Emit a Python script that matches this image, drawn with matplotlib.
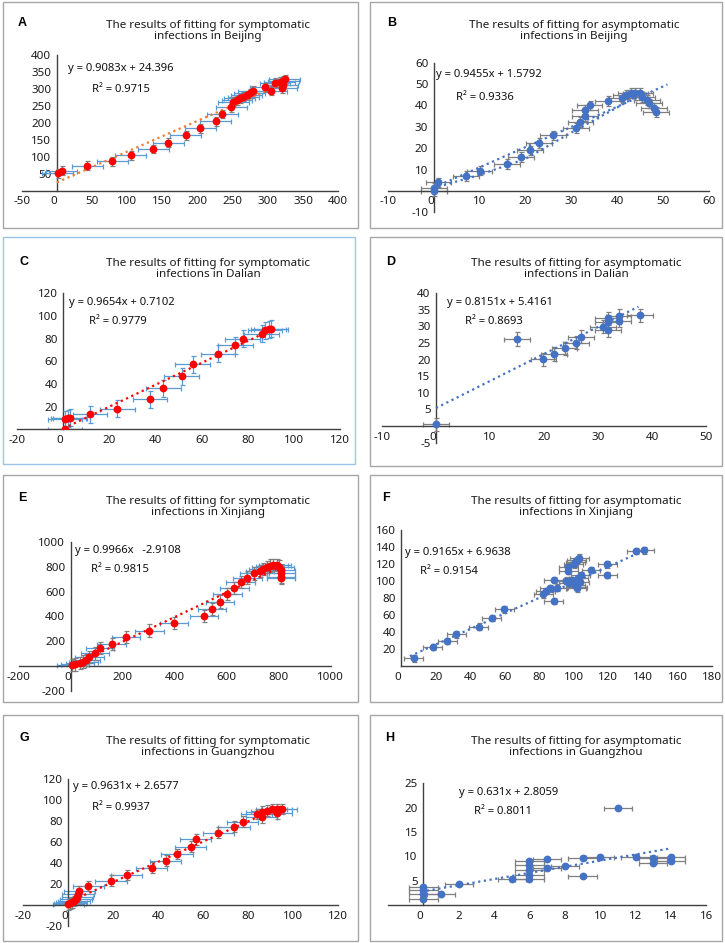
import matplotlib
matplotlib.use('Agg')
import numpy as np
import matplotlib.pyplot as plt
from matplotlib.patches import Rectangle

plt.rcParams['font.family'] = ['Noto Sans', 'DejaVu Sans']
plt.rcParams['axes.unicode_minus'] = False

W, H = 725, 943

# --- data ---
# A: symptomatic, Beijing
a_x = [1, 7, 43, 79, 105, 137, 158, 183, 204, 226, 235, 248, 251, 256, 260, 265, 270, 274,
       279, 296, 305, 310, 317, 322, 324, 321, 320]
a_y = [51, 59, 74, 87, 104, 123, 142, 163, 184, 205, 226, 246, 262, 267, 272, 277, 282, 287,
       295, 305, 295, 318, 321, 324, 328, 312, 302]
a_fit = (0.9083, 24.396, 0.9715)

# B: asymptomatic, Beijing
b_x = [0, 0, 1, 7, 10, 16, 19, 21, 23, 26, 31, 32, 33, 33, 34, 38, 41, 42, 43, 44, 45,
       45.5, 46.5, 47, 48, 48.5]
b_y = [0, 1.5, 4, 7, 9.5, 12.6, 15.8, 19, 22.5, 26, 29.4, 32.3, 35, 38, 40, 42, 43.7, 45,
       45.8, 46, 45.8, 44, 42.6, 41, 39, 37]
b_curve_x = [1, 10, 20, 31, 40, 44]
b_curve_y = [2, 7.5, 15, 28.5, 39, 44]
b_fit = (0.9455, 1.5792, 0.9336)

# C: symptomatic, Dalian
c_x = [0.7, 0.7, 2.2, 2.9, 11.6, 23.4, 37.6, 43.4, 51.3, 56.1, 67, 74.6, 77.8, 86, 87.5, 89, 90]
c_y = [0.3, 8.8, 9.7, 10.3, 13.2, 18.2, 26.5, 36.2, 47, 57.4, 66.5, 74.1, 79.7, 84.4, 87.6, 88.2, 88.8]
c_fit = (0.9654, 0.7102, 0.9779)

# D: asymptomatic, Dalian
d_x = [0, 15, 19.9, 21.9, 23.8, 25.9, 26.9, 30.9, 31.9, 31.9, 31.9, 33.8, 33.8, 37.7]
d_y = [0.5, 26.2, 20.1, 21.7, 23.4, 25.1, 26.9, 29.9, 32.5, 31.5, 28.9, 31.8, 33.2, 33.4]
d_fit = (0.8151, 5.4161, 0.8693)

# E: symptomatic, Xinjiang
e_x = [4, 17, 36, 49, 59, 72, 94, 113, 158, 213, 303, 397, 513, 544, 574, 603, 629, 654, 679,
       706, 728, 741, 754, 767, 779, 792, 803, 809, 809, 809, 809]
e_y = [8, 13, 22, 35, 49, 70, 102, 143, 178, 232, 286, 345, 404, 461, 520, 580, 633, 677, 714,
       749, 768, 784, 800, 811, 817, 817, 803, 776, 749, 722, 712]
e_fit = (0.9966, -2.9108, 0.9815)

# F: asymptomatic, Xinjiang
f_x = [7.2, 18.2, 26.7, 31.7, 44.9, 52.3, 59.7, 82.3, 83.6, 86, 88.2, 88.2, 90, 95.2, 97,
       96.7, 96.7, 99, 99.8, 100.7, 101.7, 103.1, 102.6, 100.7, 101.7, 103.5, 103.9, 102,
       109.9, 119.2, 119.2, 136, 140.7]
f_y = [9, 22.4, 29.4, 37.3, 46.3, 56.5, 66.7, 84.3, 88.2, 91.4, 101.2, 76.5, 92.2, 100.4, 98,
       111.8, 116.9, 101.2, 119.6, 122.7, 124.7, 127.5, 103.1, 95.3, 91.4, 99.2, 107, 93.3,
       112.9, 119.6, 107, 135.3, 136.1]
f_fit = (0.9165, 6.9638, 0.9154)

# G: symptomatic, Guangzhou
g_x = [0, 0.7, 1.5, 2.5, 3.4, 4, 4.4, 4.9, 8.9, 19, 25.9, 37, 43.3, 48.4, 54.4, 56.6, 66.7,
       73.6, 77.5, 83.7, 85.9, 85.9, 88.1, 90.4, 92.6, 94.8, 92.6]
g_y = [0.6, 1.6, 2.5, 3.8, 5.7, 7.9, 10.2, 13.3, 18.1, 23.2, 28.6, 35.6, 42.2, 48.6, 55.6,
       62.5, 68.9, 74.6, 79.4, 86.7, 83.5, 88.9, 89.8, 91.4, 91.4, 91.4, 87.3]
g_fit = (0.9631, 2.6577, 0.9937)

# H: asymptomatic, Guangzhou
h_x = [0, 0, 0, 0, 1, 2, 5, 6, 6, 6, 6, 6, 7, 7, 8, 9, 9, 10, 11, 12, 13, 13, 14, 14]
h_y = [1.2, 2.2, 3.1, 3.6, 2.3, 4.4, 5.3, 5.3, 6.2, 7.2, 8.2, 9.1, 7.5, 9.4, 8.1, 6, 9.6,
       9.8, 19.9, 9.8, 9.6, 8.7, 9.8, 9.1]
h_fit = (0.631, 2.8059, 0.8011)

RED = '#FF0000'
BLUE = '#4472C4'
EBLUE = '#5B9BD5'
GRAY = '#7F7F7F'
ORANGE = '#ED7D31'

panels = [
    dict(tag='A', kind='symptomatic', city='Beijing', x=a_x, y=a_y, fit=a_fit,
         xerr=22, yerr=13, mc=RED, xc=EBLUE, yc=GRAY, lc=ORANGE, trend=(0, 325),
         box=(3, 2, 358, 228), ax=(21.7, 55, 338.3, 190.7), xlim=(-50, 400), ylim=(0, 400),
         xt=range(-50, 401, 50), yt=range(50, 401, 50),
         eq='y = 0.9083x + 24.396', eqxy=(68, 69), r2xy=(92, 89), tx=208, ty=20, lab=(18, 23)),
    dict(tag='B', kind='asymptomatic', city='Beijing', x=b_x, y=b_y, fit=b_fit,
         xerr=2.8, yerr=2.2, mc=BLUE, xc=GRAY, yc=GRAY, lc=BLUE, trend=(0, 51),
         box=(370, 2, 722, 228), ax=(388, 62.7, 708.7, 212.3), xlim=(-10, 60), ylim=(-10, 60),
         xt=range(-10, 61, 10), yt=[-10, 10, 20, 30, 40, 50, 60],
         eq='y = 0.9455x + 1.5792', eqxy=(436, 75), r2xy=(456, 97), tx=574, ty=20, lab=(387, 23)),
    dict(tag='C', kind='symptomatic', city='Dalian', x=c_x, y=c_y, fit=c_fit,
         xerr=7.5, yerr=7.5, mc=RED, xc=EBLUE, yc=EBLUE, lc=RED, trend=(0, 90),
         box=(3, 237, 355, 464), ax=(17.3, 293.3, 340, 429.3), xlim=(-20, 120), ylim=(0, 120),
         xt=range(-20, 121, 20), yt=range(20, 121, 20),
         eq='y = 0.9654x + 0.7102', eqxy=(69, 302), r2xy=(89, 321), tx=208, ty=258, lab=(20, 262)),
    dict(tag='D', kind='asymptomatic', city='Dalian', x=d_x, y=d_y, fit=d_fit,
         xerr=2.4, yerr=2.0, mc=BLUE, xc=GRAY, yc=GRAY, lc=BLUE, trend=(0, 37.5),
         box=(370, 237, 722, 466), ax=(382, 293.3, 706, 442.6), xlim=(-10, 50), ylim=(-5, 40),
         xt=range(-10, 51, 10), yt=[-5, 5, 10, 15, 20, 25, 30, 35, 40],
         eq='y = 0.8151x + 5.4161', eqxy=(447, 302), r2xy=(465, 321), tx=576, ty=258, lab=(386, 262)),
    dict(tag='E', kind='symptomatic', city='Xinjiang', x=e_x, y=e_y, fit=e_fit,
         xerr=55, yerr=50, mc=RED, xc=EBLUE, yc=GRAY, lc=RED, trend=(0, 810),
         box=(3, 475, 358, 702), ax=(18.7, 542.3, 330.7, 690.7), xlim=(-200, 1000), ylim=(-200, 1000),
         xt=range(-200, 1001, 200), yt=[-200, 200, 400, 600, 800, 1000],
         eq='y = 0.9966x   -2.9108', eqxy=(75, 550), r2xy=(91, 570), tx=208, ty=496, lab=(18, 498)),
    dict(tag='F', kind='asymptomatic', city='Xinjiang', x=f_x, y=f_y, fit=f_fit,
         xerr=5.5, yerr=4, mc=BLUE, xc=GRAY, yc=GRAY, lc=BLUE, trend=(5, 142),
         box=(370, 475, 722, 702), ax=(401.3, 530, 712, 666), xlim=(0, 180), ylim=(0, 160),
         xt=range(0, 181, 20), yt=range(20, 161, 20),
         eq='y = 0.9165x + 6.9638', eqxy=(405, 552), r2xy=(420, 572), tx=576, ty=496, lab=(382, 498)),
    dict(tag='G', kind='symptomatic', city='Guangzhou', x=g_x, y=g_y, fit=g_fit,
         xerr=7, yerr=5, mc=RED, xc=EBLUE, yc=GRAY, lc=RED, trend=(0, 95),
         box=(3, 715, 358, 941), ax=(23.3, 779, 338.3, 926), xlim=(-20, 120), ylim=(-20, 120),
         xt=range(-20, 121, 20), yt=[-20, 20, 40, 60, 80, 100, 120],
         eq='y = 0.9631x + 2.6577', eqxy=(73, 787), r2xy=(92, 807), tx=208, ty=736, lab=(19, 738)),
    dict(tag='H', kind='asymptomatic', city='Guangzhou', x=h_x, y=h_y, fit=h_fit,
         xerr=0.8, yerr=0.25, mc=BLUE, xc=GRAY, yc=GRAY, lc=BLUE, trend=(0.2, 14),
         box=(370, 715, 722, 941), ax=(388, 783.3, 706.3, 905), xlim=(-2, 16), ylim=(0, 25),
         xt=range(0, 17, 2), yt=range(5, 26, 5),
         eq='y = 0.631x + 2.8059', eqxy=(459, 792), r2xy=(474, 812), tx=576, ty=736, lab=(385, 738)),
]


def fx(px):
    return px / W


def fy(py):
    return 1 - py / H


fig = plt.figure(figsize=(W / 100, H / 100), dpi=100)
fig.patch.set_facecolor('white')

for p in panels:
    # panel frame
    x0, y0, x1, y1 = p['box']
    ec = '#9DC3E6' if p['tag'] == 'C' else '#A6A6A6'
    fig.patches.append(Rectangle((fx(x0), fy(y1)), fx(x1 - x0), (y1 - y0) / H,
                                 transform=fig.transFigure, fill=False, ec=ec, lw=1.0))
    fig.text(fx(p['lab'][0]), fy(p['lab'][1]), p['tag'], fontsize=9, fontweight='bold',
             ha='left', va='center', family=['Liberation Sans', 'DejaVu Sans'])
    fig.text(fx(p['tx']), fy(p['ty']),
             'The results of fitting for %s\ninfections in %s' % (p['kind'], p['city']),
             fontsize=8.4, ha='center', va='top', linespacing=1.0, color='#1a1a1a')

    ax0, ay0, ax1, ay1 = p['ax']
    ax = fig.add_axes([fx(ax0), fy(ay1), fx(ax1 - ax0), (ay1 - ay0) / H])
    ax.set_xlim(*p['xlim'])
    ax.set_ylim(*p['ylim'])
    for s in ['top', 'right']:
        ax.spines[s].set_visible(False)
    ax.spines['left'].set_position(('data', 0))
    ax.spines['bottom'].set_position(('data', 0))
    ax.spines['left'].set_color('#404040')
    ax.spines['bottom'].set_color('#404040')
    ax.spines['left'].set_linewidth(1.0)
    ax.spines['bottom'].set_linewidth(1.0)
    ax.patch.set_alpha(0)
    ax.set_xticks(list(p['xt']))
    ax.set_yticks(list(p['yt']))
    ax.tick_params(length=0, labelsize=8.3, pad=4, colors='#1a1a1a')
    for lbl in ax.get_xticklabels():
        if lbl.get_text() == '0':
            lbl.set_horizontalalignment('right')

    xs = np.array(p['x'])
    ys = np.array(p['y'])
    # trend line
    k, b, r2 = p['fit']
    tx = np.linspace(p['trend'][0], p['trend'][1], 50)
    ax.plot(tx, k * tx + b, linestyle=(0, (1, 1.6)), lw=1.6, color=p['lc'], zorder=4)
    if p['tag'] == 'B':
        ax.plot(b_curve_x, b_curve_y, linestyle=(0, (1, 1.6)), lw=1.6, color=BLUE, zorder=4)

    ax.errorbar(xs, ys, xerr=p['xerr'], fmt='none', ecolor=p['xc'], elinewidth=0.9,
                capsize=1.8, capthick=0.9, zorder=2)
    ax.errorbar(xs, ys, yerr=p['yerr'], fmt='none', ecolor=p['yc'], elinewidth=0.9,
                capsize=1.8, capthick=0.9, zorder=3)
    ax.plot(xs, ys, 'o', ms=4.6, color=p['mc'], mec=p['mc'], zorder=5)

    fig.text(fx(p['eqxy'][0]), fy(p['eqxy'][1]), p['eq'], fontsize=8.1, ha='left', va='center',
             color='#111111')
    fig.text(fx(p['r2xy'][0]), fy(p['r2xy'][1]), 'R\u00b2 = %.4f' % r2, fontsize=8.1,
             ha='left', va='center', color='#111111')

fig.savefig('out.png', dpi=100, facecolor='white')
